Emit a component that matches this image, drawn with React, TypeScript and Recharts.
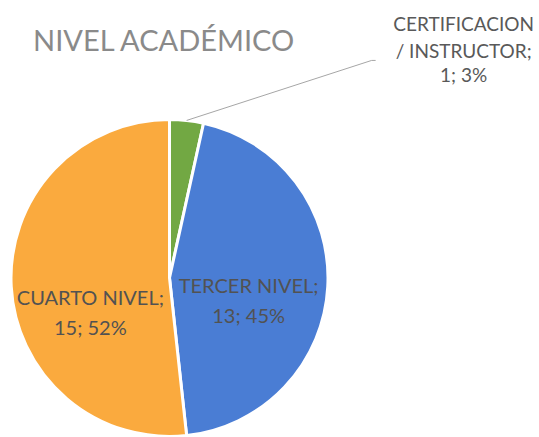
import React from 'react';
import { PieChart, Pie, Cell } from 'recharts';

const categories = ['CERTIFICACION / INSTRUCTOR', 'TERCER NIVEL', 'CUARTO NIVEL'];
const counts = [1, 13, 15];
const colors = ['#72A843', '#4A7DD4', '#FAAA3E'];
const title = 'NIVEL ACADÉMICO';

const data = categories.map((name, i) => ({ name, value: counts[i] }));

const RADIAN = Math.PI / 180;
const FONT = 'Lato, "Open Sans", sans-serif';
// per-slice vertical nudge of inner labels (styling)
const NUDGE = [0, 3, 15];

const renderLabel = (p: any) => {
  const { cx, cy, midAngle, outerRadius, percent, index, name, value } = p;
  const pct = Math.round(percent * 100);
  if (index === 0) {
    const ox = cx + outerRadius * Math.cos(-midAngle * RADIAN);
    const oy = cy + outerRadius * Math.sin(-midAngle * RADIAN);
    const ex = ox + 185;
    const ey = oy - 60;
    const tx = ex + 92;
    const parts = name.split(' / ');
    return (
      <g>
        <polyline points={`${ox},${oy} ${ex},${ey} ${ex + 4},${ey}`} fill="none" stroke="#A6A6A6" strokeWidth={1} />
        <text x={tx} y={ey - 37} textAnchor="middle" dominantBaseline="central" fill="#595959" fontSize={19} fontFamily={FONT}>{parts[0]}</text>
        <text x={tx} y={ey - 10} textAnchor="middle" dominantBaseline="central" fill="#595959" fontSize={19} fontFamily={FONT}>{`/ ${parts[1]};`}</text>
        <text x={tx} y={ey + 14} textAnchor="middle" dominantBaseline="central" fill="#595959" fontSize={19} fontFamily={FONT}>{`${value}; ${pct}%`}</text>
      </g>
    );
  }
  const r = outerRadius * 0.5;
  const x = cx + r * Math.cos(-midAngle * RADIAN);
  const y = cy + r * Math.sin(-midAngle * RADIAN) + NUDGE[index];
  return (
    <g>
      <text x={x} y={y} textAnchor="middle" dominantBaseline="central" fill="#525252" fontSize={20} fontFamily={FONT}>{`${name};`}</text>
      <text x={x} y={y + 30} textAnchor="middle" dominantBaseline="central" fill="#525252" fontSize={20} fontFamily={FONT}>{`${value}; ${pct}%`}</text>
    </g>
  );
};

export default function App() {
  return (
    <div style={{ position: 'absolute', left: 0, top: 0, width: 539, height: 437, background: '#fff', overflow: 'hidden' }}>
      <svg width={539} height={437} style={{ position: 'absolute', left: 0, top: 0 }}>
        <text x={33} y={51} fill="#8A8A8A" fontSize={29} fontFamily={FONT}>{title}</text>
      </svg>
      <div style={{ position: 'absolute', left: 0, top: 0 }}>
        <PieChart width={539} height={437} margin={{ top: 0, right: 0, bottom: 0, left: 0 }}>
          <Pie
            data={data}
            dataKey="value"
            nameKey="name"
            cx={169.5}
            cy={278}
            outerRadius={158.5}
            startAngle={90}
            endAngle={-270}
            stroke="#FFFFFF"
            strokeWidth={3}
            label={renderLabel}
            labelLine={false}
            isAnimationActive={false}
          >
            {data.map((d, i) => (
              <Cell key={d.name} fill={colors[i]} />
            ))}
          </Pie>
        </PieChart>
      </div>
    </div>
  );
}
